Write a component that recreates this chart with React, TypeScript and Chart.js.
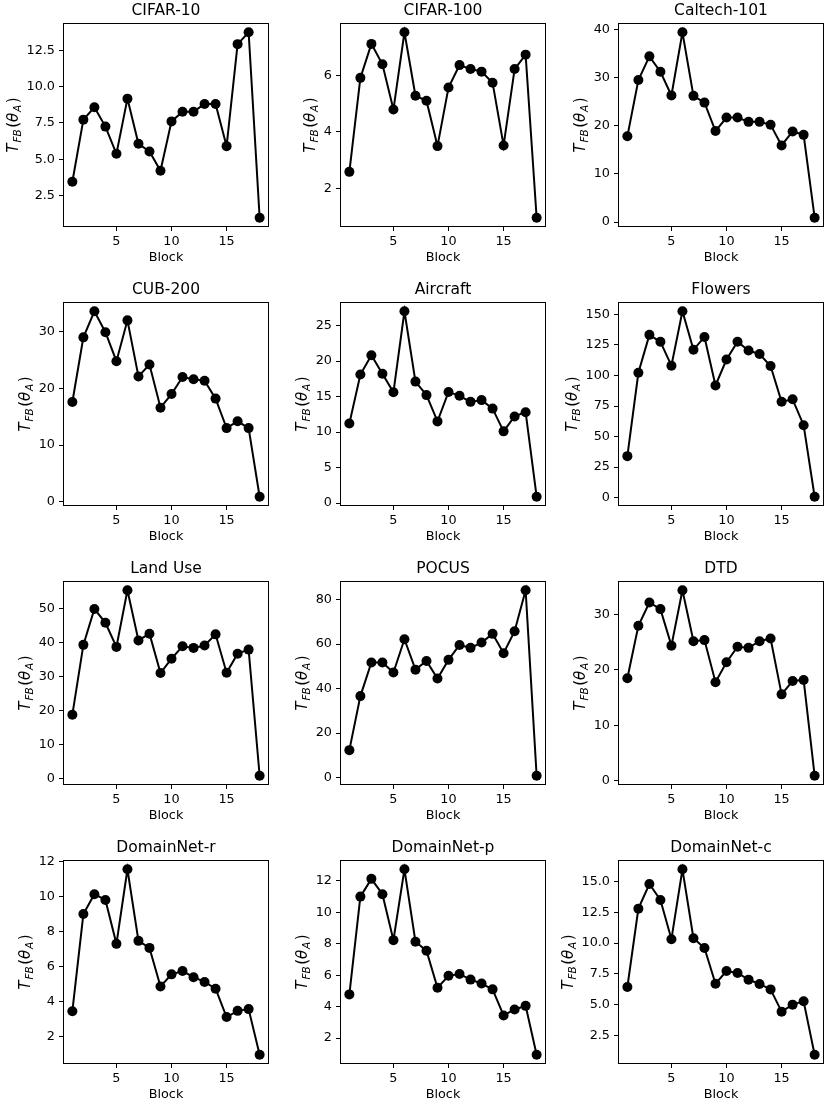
import { useEffect, useRef } from 'react';
import { Chart, registerables } from 'chart.js';

Chart.register(...registerables);
Chart.defaults.font.family = '"DejaVu Sans", sans-serif';

// x: block index
const blocks = [1, 2, 3, 4, 5, 6, 7, 8, 9, 10, 11, 12, 13, 14, 15, 16, 17, 18];
const xTicks = [5, 10, 15];

// T_FB(theta_A) per block
const cifar10 = [3.44, 7.73, 8.58, 7.25, 5.37, 9.18, 6.06, 5.53, 4.2, 7.61, 8.28, 8.28, 8.81, 8.81, 5.9, 12.94, 13.76, 0.96];
const cifar100 = [2.59, 5.91, 7.11, 6.39, 4.79, 7.52, 5.28, 5.1, 3.5, 5.57, 6.36, 6.22, 6.13, 5.74, 3.52, 6.22, 6.73, 0.97];
const caltech101 = [17.8, 29.5, 34.4, 31.2, 26.3, 39.4, 26.2, 24.8, 18.9, 21.7, 21.7, 20.8, 20.8, 20.2, 15.9, 18.8, 18.1, 0.9];
const cub200 = [17.6, 29.0, 33.6, 29.9, 24.8, 32.0, 22.1, 24.2, 16.6, 19.0, 22.0, 21.6, 21.35, 18.2, 13.0, 14.2, 13.0, 0.9];
const aircraft = [11.2, 18.1, 20.8, 18.2, 15.6, 27.0, 17.1, 15.2, 11.5, 15.65, 15.1, 14.25, 14.5, 13.3, 10.1, 12.2, 12.8, 0.9];
const flowers = [34.0, 102.2, 133.2, 127.5, 108.0, 152.5, 121.0, 131.5, 91.8, 113.0, 127.5, 120.4, 117.5, 107.7, 78.5, 80.5, 59.3, 0.8];
const landUse = [18.8, 39.4, 50.0, 45.9, 38.8, 55.5, 40.7, 42.7, 31.1, 35.3, 39.0, 38.5, 39.2, 42.5, 31.2, 36.8, 38.0, 0.8];
const pocus = [12.3, 36.6, 51.7, 51.7, 47.2, 62.2, 48.5, 52.4, 44.5, 52.9, 59.6, 58.3, 60.7, 64.6, 55.9, 65.8, 84.2, 0.8];
const dtd = [18.5, 28.0, 32.2, 31.0, 24.4, 34.4, 25.2, 25.4, 17.8, 21.4, 24.2, 24.0, 25.2, 25.7, 15.6, 18.0, 18.2, 0.9];
const domainNetR = [3.46, 9.0, 10.13, 9.8, 7.3, 11.55, 7.47, 7.07, 4.87, 5.56, 5.75, 5.4, 5.13, 4.74, 3.13, 3.48, 3.58, 0.98];
const domainNetP = [4.78, 11.0, 12.13, 11.15, 8.23, 12.74, 8.13, 7.56, 5.2, 5.96, 6.08, 5.72, 5.47, 5.1, 3.44, 3.82, 4.05, 0.94];
const domainNetC = [6.43, 12.8, 14.8, 13.5, 10.32, 16.0, 10.4, 9.6, 6.7, 7.73, 7.57, 7.03, 6.68, 6.24, 4.43, 5.0, 5.27, 0.93];

// y tick labels per panel
const ticksCifar10 = ['2.5', '5.0', '7.5', '10.0', '12.5'];
const ticksCifar100 = ['2', '4', '6'];
const ticksCaltech = ['0', '10', '20', '30', '40'];
const ticksCub = ['0', '10', '20', '30'];
const ticksAircraft = ['0', '5', '10', '15', '20', '25'];
const ticksFlowers = ['0', '25', '50', '75', '100', '125', '150'];
const ticksLandUse = ['0', '10', '20', '30', '40', '50'];
const ticksPocus = ['0', '20', '40', '60', '80'];
const ticksDtd = ['0', '10', '20', '30'];
const ticksDomainNetR = ['2', '4', '6', '8', '10', '12'];
const ticksDomainNetP = ['2', '4', '6', '8', '10', '12'];
const ticksDomainNetC = ['2.5', '5.0', '7.5', '10.0', '12.5', '15.0'];

const panels = [
  { title: 'CIFAR-10', values: cifar10, yTicks: ticksCifar10 },
  { title: 'CIFAR-100', values: cifar100, yTicks: ticksCifar100 },
  { title: 'Caltech-101', values: caltech101, yTicks: ticksCaltech },
  { title: 'CUB-200', values: cub200, yTicks: ticksCub },
  { title: 'Aircraft', values: aircraft, yTicks: ticksAircraft },
  { title: 'Flowers', values: flowers, yTicks: ticksFlowers },
  { title: 'Land Use', values: landUse, yTicks: ticksLandUse },
  { title: 'POCUS', values: pocus, yTicks: ticksPocus },
  { title: 'DTD', values: dtd, yTicks: ticksDtd },
  { title: 'DomainNet-r', values: domainNetR, yTicks: ticksDomainNetR },
  { title: 'DomainNet-p', values: domainNetP, yTicks: ticksDomainNetP },
  { title: 'DomainNet-c', values: domainNetC, yTicks: ticksDomainNetC },
];

const CELL_W = 277;
const CELL_H = 279;
const colLeft = [0, 277, 555];
const rowTop = [0, 279, 558, 837];
const TICK_FONT = 12.8;

// frame + mathtext-ish y label  T_FB(θ_A)
const framePlugin = {
  id: 'frameAndYLabel',
  afterDraw(chart: Chart) {
    const { ctx, chartArea, scales } = chart;
    ctx.save();
    ctx.strokeStyle = '#000';
    ctx.lineWidth = 1;
    ctx.strokeRect(chartArea.left + 0.5, chartArea.top + 0.5, chartArea.width - 1, chartArea.height - 1);

    ctx.font = `${TICK_FONT}px "DejaVu Sans"`;
    const w = Math.max(...scales.y.ticks.map((t: any) => ctx.measureText(String(t.label)).width));
    const bx = chartArea.left - 8 - w - 9;
    const cy = (chartArea.top + chartArea.bottom) / 2;

    const parts = [
      { t: 'T', size: 15, italic: true, dy: 0, gap: 1 },
      { t: 'FB', size: 10.5, italic: true, dy: 3, gap: 1.5 },
      { t: '(', size: 15, italic: false, dy: 0, gap: 0 },
      { t: 'θ', size: 15, italic: true, dy: 0, gap: 0.8 },
      { t: 'A', size: 10.5, italic: true, dy: 3, gap: 1.5 },
      { t: ')', size: 15, italic: false, dy: 0, gap: 0 },
    ];
    const fontOf = (p: any) => `${p.italic ? 'italic ' : ''}${p.size}px "DejaVu Sans"`;
    let total = 0;
    for (const p of parts) {
      ctx.font = fontOf(p);
      total += ctx.measureText(p.t).width + p.gap;
    }
    ctx.translate(bx, cy);
    ctx.rotate(-Math.PI / 2);
    ctx.fillStyle = '#000';
    ctx.textBaseline = 'alphabetic';
    let x = -total / 2;
    for (const p of parts) {
      ctx.font = fontOf(p);
      ctx.fillText(p.t, x, p.dy);
      x += ctx.measureText(p.t).width + p.gap;
    }
    ctx.restore();
  },
};

function Panel({ title, values, yTicks }: { title: string; values: number[]; yTicks: string[] }) {
  const canvasRef = useRef<HTMLCanvasElement>(null);

  useEffect(() => {
    if (!canvasRef.current) return;
    const ctx = canvasRef.current.getContext('2d');
    if (!ctx) return;

    // matplotlib-style 5% autoscale margins
    const lo = Math.min(...values);
    const hi = Math.max(...values);
    const pad = (hi - lo) * 0.05;
    const xPad = (blocks[blocks.length - 1] - blocks[0]) * 0.05;

    const chart = new Chart(ctx, {
      type: 'line',
      data: {
        datasets: [{
          data: blocks.map((b, i) => ({ x: b, y: values[i] })),
          borderColor: '#000',
          backgroundColor: '#000',
          borderWidth: 2,
          pointRadius: 5,
          pointBorderWidth: 0,
          pointBackgroundColor: '#000',
          tension: 0,
          fill: false,
        }],
      },
      options: {
        responsive: false,
        animation: false,
        events: [],
        layout: { padding: { left: 0, right: 8, top: 0, bottom: 0 } },
        plugins: {
          legend: { display: false },
          tooltip: { enabled: false },
          title: {
            display: true,
            text: title,
            fullSize: false,
            color: '#000',
            font: { size: 15.5, weight: 'normal' },
            padding: { top: 2, bottom: 2.4 },
          },
        },
        scales: {
          x: {
            type: 'linear',
            min: blocks[0] - xPad,
            max: blocks[blocks.length - 1] + xPad,
            afterBuildTicks: (axis: any) => { axis.ticks = xTicks.map(v => ({ value: v })); },
            afterFit: (axis: any) => { axis.height = 52; },
            ticks: { color: '#000', font: { size: TICK_FONT }, padding: 3, maxRotation: 0, callback: (v: any) => String(v) },
            grid: { drawOnChartArea: false, drawTicks: true, tickLength: 4, color: '#000', lineWidth: 1 },
            border: { display: false },
            title: { display: true, text: 'Block', color: '#000', font: { size: TICK_FONT }, padding: { top: 4, bottom: 13.3 } },
          },
          y: {
            type: 'linear',
            min: lo - pad,
            max: hi + pad,
            afterBuildTicks: (axis: any) => { axis.ticks = yTicks.map(s => ({ value: Number(s) })); },
            afterFit: (axis: any) => { axis.width = 63; },
            ticks: {
              color: '#000',
              font: { size: TICK_FONT },
              padding: 4,
              callback: (v: any) => yTicks.find(s => Number(s) === v) ?? String(v),
            },
            grid: { drawOnChartArea: false, drawTicks: true, tickLength: 4, color: '#000', lineWidth: 1 },
            border: { display: false },
          },
        },
      },
      plugins: [framePlugin],
    });

    return () => {
      chart.destroy();
    };
  }, [title, values, yTicks]);

  return <canvas ref={canvasRef} width={CELL_W} height={CELL_H} style={{ display: 'block' }} />;
}

export default function App() {
  return (
    <div style={{ position: 'absolute', left: 0, top: 0, width: 831, height: 1111, overflow: 'hidden', background: '#fff' }}>
      {panels.map((p, i) => (
        <div
          key={p.title}
          style={{ position: 'absolute', left: colLeft[i % 3], top: rowTop[Math.floor(i / 3)], width: CELL_W, height: CELL_H }}
        >
          <Panel title={p.title} values={p.values} yTicks={p.yTicks} />
        </div>
      ))}
    </div>
  );
}
